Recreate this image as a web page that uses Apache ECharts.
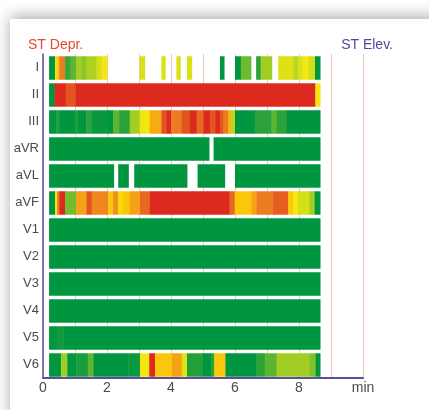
<!DOCTYPE html>
<html>
<head>
<meta charset="utf-8">
<script src="https://cdn.jsdelivr.net/npm/echarts@6/dist/echarts.min.js"></script>
<style>
html,body{margin:0;padding:0;background:#fff;overflow:hidden;}
#card{position:absolute;left:10px;top:19px;width:700px;height:700px;background:#fff;box-shadow:0 -3px 14px rgba(0,0,0,0.32);}
#chart{position:absolute;left:0;top:0;width:429px;height:410px;}
</style>
</head>
<body>
<div id="card"></div>
<div id="chart"></div>
<script>
// Leads (rows, top to bottom)
var leads = ['I','II','III','aVR','aVL','aVF','V1','V2','V3','V4','V5','V6'];
// x-axis tick labels (minutes); last tick shows unit
var xTicks = [0,2,4,6,8];
var xUnit = 'min';
// colour scale: 0 = no ST change (green) ... 10 = strong (red)
var levelColors = ['#00963f','#2ba23a','#5db532','#a2cd24','#d3df17','#f4e70f','#fbc70a','#f5a316','#eb7c22','#e35520','#dc2b1e'];

// segments per lead: [start min, end min, level]
var leadI = [[0.19,0.375,0],[0.375,0.43,5],[0.43,0.51,6],[0.51,0.69,8],[0.69,0.86,1.2],[0.86,1.03,2],[1.03,1.21,3],[1.21,1.36,2.7],[1.36,1.67,3.2],[1.67,1.83,4],[1.83,2.0,5],
  [3.02,3.18,4.2],[3.70,3.82,4.2],[4.17,4.29,4.2],[4.50,4.65,4.2],[5.53,5.66,0],
  [6.0,6.18,0],[6.18,6.5,2.2],[6.66,6.80,1],[6.80,7.15,3],[7.35,7.82,4.3],[7.82,7.98,3.5],[7.98,8.13,4.3],[8.13,8.29,5],[8.29,8.5,4],[8.5,8.66,0]];
var leadII = [[0.19,0.36,0],[0.36,0.71,10],[0.71,1.02,9],[1.02,8.51,10],[8.51,8.66,5]];
var leadIII = [[0.19,0.42,0],[0.42,0.52,0.7],[0.52,0.99,0],[0.99,1.09,0.7],[1.09,1.35,0],[1.35,1.51,1],[1.51,2.03,0.2],[2.03,2.19,0],[2.19,2.38,2],[2.38,2.71,1],[2.71,3.02,3],[3.02,3.18,4.8],[3.18,3.33,5],[3.33,3.70,6.8],[3.70,3.85,9],[3.85,4.0,10],[4.0,4.33,8],[4.33,4.59,9],[4.59,4.80,10],[4.80,5.01,8.5],[5.01,5.22,10],[5.22,5.38,9],[5.38,5.53,10],[5.53,5.64,9],[5.64,5.79,8],[5.79,5.89,6.5],[5.89,6.0,3.5],[6.0,6.62,0],[6.62,7.14,1],[7.14,7.30,2],[7.30,7.61,1],[7.61,8.66,0]];
var leadAVR = [[0.19,5.19,0],[5.33,8.66,0]];
var leadAVL = [[0.19,2.21,0],[2.35,2.67,0],[2.85,4.5,0],[4.83,5.68,0],[6.0,8.66,0]];
var leadAVF = [[0.19,0.375,0],[0.375,0.44,5],[0.44,0.51,8],[0.51,0.69,10],[0.69,1.03,2.3],[1.03,1.36,7],[1.36,1.52,9],[1.52,2.04,7.7],[2.04,2.19,6],[2.19,2.34,7.5],[2.34,2.5,5.5],[2.5,2.71,6],[2.71,3.03,7],[3.03,3.34,8.5],[3.34,5.83,10],[5.83,5.99,8.5],[5.99,6.51,6],[6.51,6.67,7],[6.67,7.19,8],[7.19,7.66,8.8],[7.66,7.81,6],[7.81,7.97,5],[7.97,8.33,4],[8.33,8.49,3],[8.49,8.66,0]];
var leadV1 = [[0.19,8.66,0]];
var leadV2 = [[0.19,8.66,0]];
var leadV3 = [[0.19,8.66,0]];
var leadV4 = [[0.19,8.66,0]];
var leadV5 = [[0.19,0.43,0],[0.43,0.64,0.4],[0.64,8.66,0]];
var leadV6 = [[0.19,0.56,0],[0.56,0.76,3],[0.76,1.04,0],[1.04,1.4,0.6],[1.4,1.58,2],[1.58,2.66,0],[2.66,3.03,0.2],[3.03,3.32,5],[3.32,3.5,10],[3.5,4.03,6],[4.03,4.34,7],[4.34,4.5,4.5],[4.5,5.0,0.8],[5.0,5.25,0],[5.25,5.35,1],[5.35,5.7,6],[5.7,6.67,0],[6.67,6.93,1],[6.93,7.3,2],[7.3,8.33,3],[8.33,8.52,2.5],[8.52,8.66,0]];

var leadSegments = [leadI,leadII,leadIII,leadAVR,leadAVL,leadAVF,leadV1,leadV2,leadV3,leadV4,leadV5,leadV6];

var data = [];
leadSegments.forEach(function(segs, row){
  segs.forEach(function(s){ data.push([s[0], s[1], row, s[2]]); });
});

var chart = echarts.init(document.getElementById('chart'), null, {renderer:'canvas'});
var font = 'Liberation Sans, Arial, sans-serif';
chart.setOption({
  backgroundColor: 'transparent',
  animation: false,
  grid: {left: 43, right: 66, top: 54, bottom: 32},
  visualMap: {show: false, type: 'continuous', min: 0, max: 10, dimension: 3, seriesIndex: 0,
    inRange: {color: levelColors}},
  xAxis: {
    type: 'value', min: 0, max: 10, interval: 1,
    axisLine: {show: true, lineStyle: {color: '#5a4f9f', width: 2}},
    axisTick: {show: false},
    axisLabel: {color: '#4a4a4a', fontSize: 14, fontFamily: font, margin: 3,
      formatter: function(v){ if (v === 10) return xUnit; return xTicks.indexOf(v) >= 0 ? String(v) : ''; }},
    splitLine: {show: true, lineStyle: {color: '#f3c3ba', width: 1}}
  },
  yAxis: {
    type: 'category', data: leads, inverse: true,
    axisLine: {show: true, onZero: false, lineStyle: {color: '#5a4f9f', width: 1.5}},
    axisTick: {show: false},
    axisLabel: {color: '#4a4a4a', fontSize: 13, fontFamily: font, margin: 4},
    splitLine: {show: false}
  },
  graphic: [
    {type: 'text', left: 28, top: 38, style: {text: 'ST Depr.', fill: '#e8462e', font: '14px ' + font}},
    {type: 'text', right: 36, top: 38, style: {text: 'ST Elev.', fill: '#54479a', font: '14px ' + font}}
  ],
  series: [{
    type: 'custom',
    encode: {x: [0,1], y: 2},
    data: data,
    renderItem: function(params, api){
      var row = api.value(2);
      var p0 = api.coord([api.value(0), row]);
      var p1 = api.coord([api.value(1), row]);
      var h = api.size([0,1])[1] * 0.87;
      return {
        type: 'rect',
        shape: {x: p0[0], y: p0[1] - h/2 + 0.5, width: p1[0] - p0[0] + 0.4, height: h},
        style: {fill: api.visual('color')}
      };
    }
  }]
});
</script>
</body>
</html>
